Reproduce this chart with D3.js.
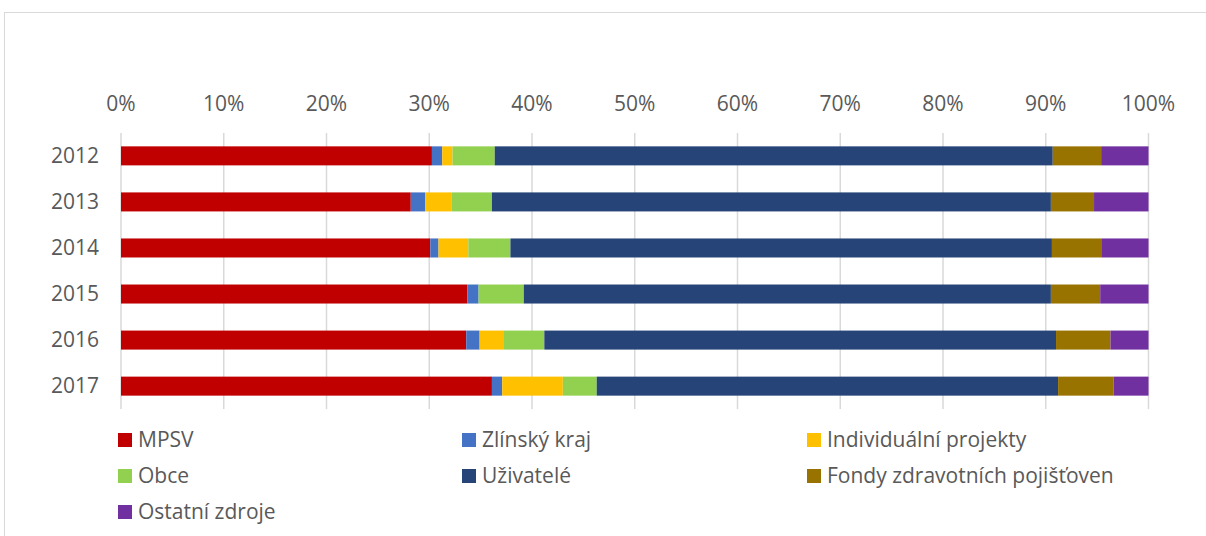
<!DOCTYPE html>
<html>
<head>
<meta charset="utf-8">
<script src="https://cdn.jsdelivr.net/npm/d3@7"></script>
<style>
  body { margin: 0; background: #fff; }
  text { font-family: "Open Sans", sans-serif; fill: #595959; }
</style>
</head>
<body>
<svg id="chart"></svg>
<script>
var width = 1206;
var height = 536;

var years = ["2012", "2013", "2014", "2015", "2016", "2017"];
var series = ["MPSV", "Zlínský kraj", "Individuální projekty", "Obce", "Uživatelé", "Fondy zdravotních pojišťoven", "Ostatní zdroje"];
var colors = ["#c00000", "#4472c4", "#ffc000", "#92d050", "#264478", "#997300", "#7030a0"];

// shares in % per year, same order as series
var mpsv     = [30.2, 28.2, 30.1, 33.7, 33.6, 36.1];
var zlin     = [1.0, 1.4, 0.8, 1.1, 1.3, 1.0];
var indiv    = [1.0, 2.6, 2.9, 0.0, 2.3, 5.9];
var obce     = [4.1, 3.9, 4.1, 4.4, 4.0, 3.3];
var uzivatele = [54.2, 54.4, 52.7, 51.3, 49.8, 44.9];
var fondy    = [4.7, 4.2, 4.8, 4.8, 5.3, 5.4];
var ostatni  = [4.6, 5.3, 4.6, 4.7, 3.7, 3.4];

var tickValues = [0, 10, 20, 30, 40, 50, 60, 70, 80, 90, 100];

var allValues = [mpsv, zlin, indiv, obce, uzivatele, fondy, ostatni];

var rows = years.map(function (y, i) {
    var r = {year: y};
    series.forEach(function (s, j) { r[s] = allValues[j][i]; });
    return r;
});

var stacked = d3.stack().keys(series)
    .offset(d3.stackOffsetExpand)(rows);

var svg = d3.select("#chart").attr("width", width).attr("height", height);

// outer frame
svg.append("rect")
    .attr("x", 4.5).attr("y", 12.5)
    .attr("width", 1220).attr("height", 560)
    .attr("fill", "none")
    .attr("stroke", "#d9d9d9");

var x = d3.scaleLinear().domain([0, 1]).range([121, 1148.5]);
var y = d3.scaleBand().domain(years).range([133, 409]).paddingInner(0.587).paddingOuter(0.29);

// gridlines
svg.append("g").selectAll("line")
    .data(tickValues)
    .enter().append("line")
    .attr("x1", function (d) { return x(d / 100); })
    .attr("x2", function (d) { return x(d / 100); })
    .attr("y1", 133).attr("y2", 409)
    .attr("stroke", "#d9d9d9")
    .attr("stroke-width", 1.5);

// top axis labels
svg.append("g").selectAll("text")
    .data(tickValues)
    .enter().append("text")
    .attr("x", function (d) { return x(d / 100); })
    .attr("y", 111)
    .attr("text-anchor", "middle")
    .style("font-size", "21px")
    .text(function (d) { return d + "%"; });

// year labels
svg.append("g").selectAll("text")
    .data(years)
    .enter().append("text")
    .attr("x", 99)
    .attr("y", function (d) { return y(d) + y.bandwidth() / 2; })
    .attr("dy", "0.35em")
    .attr("text-anchor", "end")
    .style("font-size", "21px")
    .text(function (d) { return d; });

// bars
svg.append("g").selectAll("g")
    .data(stacked)
    .enter().append("g")
    .attr("fill", function (d, i) { return colors[i]; })
    .selectAll("rect")
    .data(function (d) { return d; })
    .enter().append("rect")
    .attr("x", function (d) { return x(d[0]); })
    .attr("width", function (d) { return x(d[1]) - x(d[0]); })
    .attr("y", function (d) { return y(d.data.year); })
    .attr("height", y.bandwidth());

// legend
var legendPos = [
    [118, 440], [462, 440], [807, 440],
    [118, 476], [462, 476], [807, 476],
    [118, 512]
];
var legend = svg.append("g").selectAll("g")
    .data(series)
    .enter().append("g")
    .attr("transform", function (d, i) { return "translate(" + legendPos[i][0] + "," + legendPos[i][1] + ")"; });

legend.append("rect")
    .attr("x", 0).attr("y", -7)
    .attr("width", 14).attr("height", 14)
    .attr("fill", function (d, i) { return colors[i]; });

legend.append("text")
    .attr("x", 20)
    .attr("y", 0)
    .attr("dy", "0.35em")
    .style("font-size", "21px")
    .text(function (d) { return d; });
</script>
</body>
</html>
